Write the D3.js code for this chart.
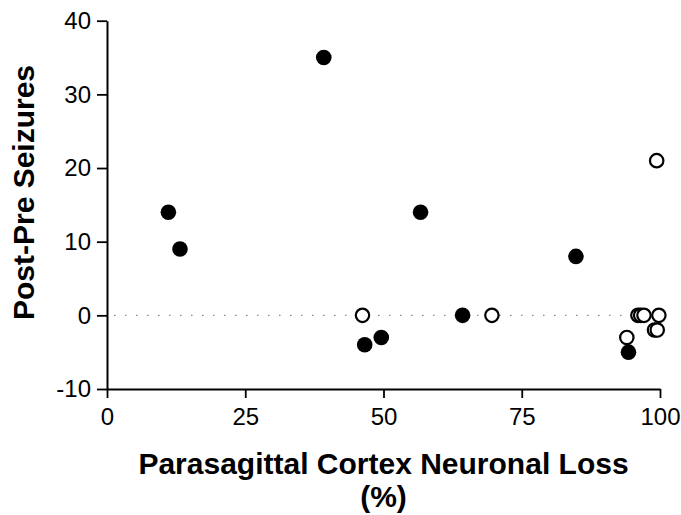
<!DOCTYPE html>
<html>
<head>
<meta charset="utf-8">
<script src="https://cdn.jsdelivr.net/npm/d3@7"></script>
<style>
  body { margin: 0; background: #fff; }
  svg { display: block; font-family: 'Liberation Sans', Arial, Helvetica, sans-serif; }
</style>
</head>
<body>
<script>
// Points (x = neuronal loss %, y = post - pre seizures)
var filledX = [11.1, 13.2, 39.2, 46.6, 49.6, 56.7, 64.3, 84.8, 94.3];
var filledY = [14, 9, 35, -4, -3, 14, 0, 8, -5];
var openX = [46.2, 69.6, 94.0, 96.0, 96.5, 97.1, 99.8, 99.4, 99.0, 99.5];
var openY = [0, 0, -3, 0, 0, 0, 0, 21, -2, -2];

var xTicks = [0, 25, 50, 75, 100];
var yTicks = [-10, 0, 10, 20, 30, 40];

var xTitle = 'Parasagittal Cortex Neuronal Loss';
var xTitleUnit = '(%)';
var yTitle = 'Post-Pre Seizures';

// Chart definitions
var chartWidth = 681, chartHeight = 515;
var plot = { left: 107, right: 660, top: 20.7, bottom: 389 };
var markerRadius = 7.8;

var svg = d3.select('body')
  .append('svg')
  .attr('width', chartWidth)
  .attr('height', chartHeight);

var x = d3.scaleLinear().domain([0, 100]).range([plot.left, plot.right]);
var y = d3.scaleLinear().domain([-10, 40]).range([plot.bottom, plot.top]);

// plain hyphen for negatives, like the original
var plainFormat = function(d) { return String(d); };

// Dotted zero reference line
svg.append('line')
  .attr('x1', x(0))
  .attr('x2', x(100))
  .attr('y1', y(0))
  .attr('y2', y(0))
  .style('stroke', '#8a8a8a')
  .style('stroke-width', 1.3)
  .style('stroke-dasharray', '1.5,9.5')
  .style('stroke-dashoffset', -7);

// Axes
var yAxis = svg.append('g')
  .attr('transform', 'translate(' + plot.left + ',0)')
  .call(d3.axisLeft(y).tickValues(yTicks).tickFormat(plainFormat)
    .tickSize(10).tickSizeOuter(0).tickPadding(6));

var xAxis = svg.append('g')
  .attr('transform', 'translate(0,' + plot.bottom + ')')
  .call(d3.axisBottom(x).tickValues(xTicks).tickFormat(plainFormat)
    .tickSize(9).tickSizeOuter(0).tickPadding(10));

[xAxis, yAxis].forEach(function(ax) {
  ax.select('.domain').style('stroke', '#000').style('stroke-width', 2);
  ax.selectAll('.tick line').style('stroke', '#000').style('stroke-width', 1.8);
  ax.selectAll('.tick text')
    .style('font-family', "'Liberation Sans', Arial, Helvetica, sans-serif")
    .style('font-size', '24px')
    .style('fill', '#000');
});

// Filled markers
svg.append('g')
  .selectAll('circle')
  .data(filledX)
  .enter()
  .append('circle')
  .attr('cx', function(d) { return x(d); })
  .attr('cy', function(d, i) { return y(filledY[i]); })
  .attr('r', markerRadius)
  .style('fill', '#000');

// Open markers
svg.append('g')
  .selectAll('circle')
  .data(openX)
  .enter()
  .append('circle')
  .attr('cx', function(d) { return x(d); })
  .attr('cy', function(d, i) { return y(openY[i]); })
  .attr('r', markerRadius - 1.1)
  .style('fill', '#fff')
  .style('stroke', '#000')
  .style('stroke-width', 2.2);

// Axis titles
var xMid = (plot.left + plot.right) / 2;
svg.append('text')
  .attr('x', xMid)
  .attr('y', 474)
  .attr('text-anchor', 'middle')
  .style('font-size', '30px')
  .style('font-weight', 'bold')
  .text(xTitle);

svg.append('text')
  .attr('x', xMid)
  .attr('y', 507)
  .attr('text-anchor', 'middle')
  .style('font-size', '30px')
  .style('font-weight', 'bold')
  .text(xTitleUnit);

svg.append('text')
  .attr('transform', 'translate(33.5,192.5) rotate(-90)')
  .attr('text-anchor', 'middle')
  .style('font-size', '30px')
  .style('font-weight', 'bold')
  .text(yTitle);
</script>
</body>
</html>
